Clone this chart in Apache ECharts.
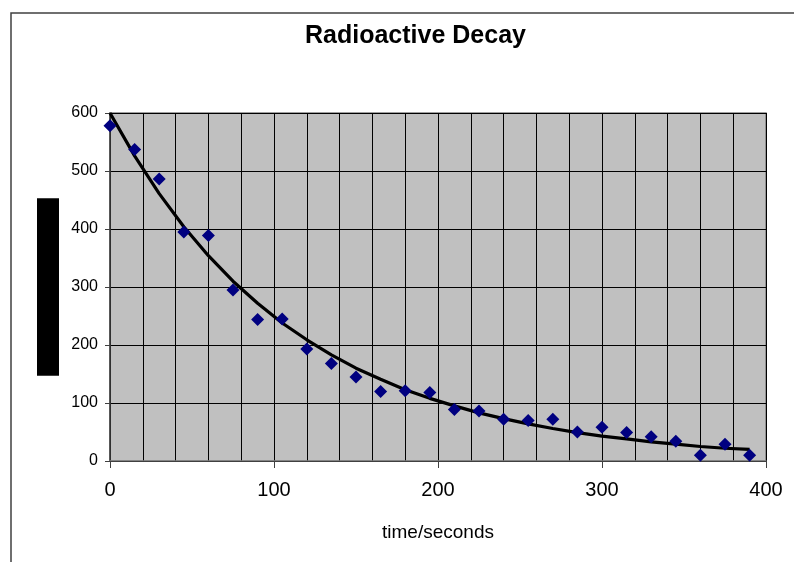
<!DOCTYPE html>
<html>
<head>
<meta charset="utf-8">
<script src="https://cdn.jsdelivr.net/npm/echarts@6/dist/echarts.min.js"></script>
<style>
html,body{margin:0;padding:0;background:#fff;}
#chart{width:794px;height:562px;}
</style>
</head>
<body>
<div id="chart"></div>
<script>
// time in seconds
var times = [0,15,30,45,60,75,90,105,120,135,150,165,180,195,210,225,240,255,270,285,300,315,330,345,360,375,390];
// measured counts (diamonds)
var counts = [578,537,486,395,389,295,244,245,193,168,145,120,121,118,89,86,72,70,72,50,58,49,42,34,10,29,10];
// fitted decay curve (black line)
var fitted = [600,526,461,404,354,310,272,238,209,183,160,141,123,108,95,83,73,64,56,49,43,38,33,29,25,22,20];
var xTicks = [0,100,200,300,400];
var yTicks = [0,100,200,300,400,500,600];

var chartTitle = 'Radioactive Decay';
var xName = 'time/seconds';
var yName = 'counts';

var pts = times.map(function(t,i){return [t,counts[i]];});
var fitPts = times.map(function(t,i){return [t,fitted[i]];});

var chart = echarts.init(document.getElementById('chart'), null, {renderer:'canvas'});
chart.setOption({
  backgroundColor:'#fff',
  animation:false,
  title:{
    text:chartTitle,
    left:300, top:19,
    textStyle:{fontFamily:'Liberation Sans, Arial, sans-serif',fontSize:25,fontWeight:'bold',color:'#000'}
  },
  graphic:[{
    type:'rect', silent:true, z:-1,
    shape:{x:11,y:13,width:820,height:600},
    style:{fill:'none',stroke:'#404040',lineWidth:1.5}
  }],
  grid:{left:110,right:28,top:113,bottom:101,show:true,backgroundColor:'#C0C0C0',borderColor:'#808080',borderWidth:1.5},
  xAxis:[{
    type:'value', min:0, max:400, interval:20,
    axisLine:{show:true,onZero:false,lineStyle:{color:'#808080',width:1.5}},
    axisTick:{show:false},
    axisLabel:{show:false},
    splitLine:{show:true,lineStyle:{color:'#000',width:1}}
  },{
    type:'value', min:0, max:400, interval:100, position:'bottom',
    axisLine:{show:true,onZero:false,lineStyle:{color:'#404040',width:1}},
    axisTick:{show:true,inside:false,length:7,lineStyle:{color:'#404040'}},
    axisLabel:{show:true,margin:19,color:'#000',fontFamily:'Liberation Sans, Arial, sans-serif',fontSize:20,
      customValues:xTicks},
    splitLine:{show:false},
    name:xName, nameLocation:'middle', nameGap:62,
    nameTextStyle:{color:'#000',fontFamily:'Liberation Sans, Arial, sans-serif',fontSize:19}
  }],
  yAxis:{
    type:'value', min:0, max:600, interval:100,
    axisLine:{show:true,onZero:false,lineStyle:{color:'#404040',width:1.5}},
    axisTick:{show:true,inside:false,length:5,lineStyle:{color:'#404040'}},
    axisLabel:{show:true,margin:12,color:'#000',fontFamily:'Liberation Sans, Arial, sans-serif',fontSize:16},
    splitLine:{show:true,lineStyle:{color:'#000',width:1}},
    name:yName, nameLocation:'middle', nameRotate:90, nameGap:51,
    nameTextStyle:{color:'#000',backgroundColor:'#000',fontFamily:'Liberation Sans, Arial, sans-serif',fontSize:12,lineHeight:14,align:'center',padding:[4,71,4,71]}
  },
  series:[{
    type:'line', data:fitPts, xAxisIndex:0, showSymbol:false, symbol:'none', smooth:false,
    lineStyle:{color:'#000',width:3.2}, z:3
  },{
    type:'scatter', data:pts, xAxisIndex:0, symbol:'diamond', symbolSize:13,
    itemStyle:{color:'#000080',opacity:1}, z:4
  }]
});
</script>
</body>
</html>
